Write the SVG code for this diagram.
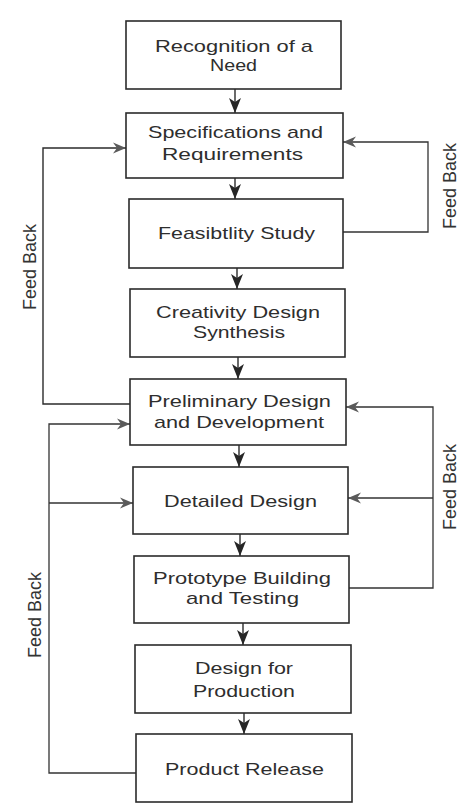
<svg xmlns="http://www.w3.org/2000/svg" width="461" height="808" viewBox="0 0 461 808">
<style>
.box{fill:#fff;stroke:#2b2b2b;stroke-width:1.6}
.t{font-family:"Liberation Sans",Arial,sans-serif;font-size:17px;fill:#2e2e2e;text-anchor:middle}
.fb{font-family:"Liberation Sans",Arial,sans-serif;font-size:18px;fill:#333;text-anchor:middle}
.ln{fill:none;stroke:#2b2b2b;stroke-width:1.4}
.fl{fill:none;stroke:#333;stroke-width:1.3}
</style>
<defs>
<marker id="down" markerWidth="16" markerHeight="14" refX="15" refY="7" orient="auto" markerUnits="userSpaceOnUse">
<path d="M0,1 L15,7 L0,13 L4,7 z" fill="#262626"/>
</marker>
<marker id="fbk" markerWidth="14" markerHeight="12" refX="13" refY="6" orient="auto" markerUnits="userSpaceOnUse">
<path d="M0,0.5 L13,6 L0,11.5 L4,6 z" fill="#5a5a5a"/>
</marker>
</defs>
<rect width="461" height="808" fill="#fff"/>

<g id="connectors">
<line class="ln" x1="235" y1="89" x2="235" y2="113" marker-end="url(#down)"/>
<line class="ln" x1="235" y1="178" x2="235" y2="199" marker-end="url(#down)"/>
<line class="ln" x1="237" y1="268" x2="237" y2="289" marker-end="url(#down)"/>
<line class="ln" x1="238" y1="357" x2="238" y2="379" marker-end="url(#down)"/>
<line class="ln" x1="239" y1="445" x2="239" y2="467" marker-end="url(#down)"/>
<line class="ln" x1="240" y1="534" x2="240" y2="556" marker-end="url(#down)"/>
<line class="ln" x1="243" y1="623" x2="243" y2="645" marker-end="url(#down)"/>
<line class="ln" x1="244" y1="713" x2="244" y2="734" marker-end="url(#down)"/>
<path class="ln" d="M130,404 H43 V148 H126" marker-end="url(#fbk)"/>
<path class="fl" d="M343,232 H428 V142 H343" marker-end="url(#fbk)"/>
<path class="fl" d="M349,588 H433 V407 H346" marker-end="url(#fbk)"/>
<path class="fl" d="M433,498 H348" marker-end="url(#fbk)"/>
<path class="fl" d="M136,773 H49 V424 H130" marker-end="url(#fbk)"/>
<path class="fl" d="M49,503 H133" marker-end="url(#fbk)"/>
</g>

<g id="n1"><rect class="box" x="126" y="21" width="215" height="68"/>
<text class="t" x="234" y="52" textLength="158" lengthAdjust="spacingAndGlyphs">Recognition of a</text>
<text class="t" x="233.5" y="71" textLength="47" lengthAdjust="spacingAndGlyphs">Need</text></g>
<g id="n2"><rect class="box" x="126" y="113" width="217" height="65"/>
<text class="t" x="235.5" y="138" textLength="175" lengthAdjust="spacingAndGlyphs">Specifications and</text>
<text class="t" x="232.5" y="160" textLength="141" lengthAdjust="spacingAndGlyphs">Requirements</text></g>
<g id="n3"><rect class="box" x="129" y="199" width="214" height="69"/>
<text class="t" x="236.5" y="239" textLength="157" lengthAdjust="spacingAndGlyphs">Feasibtlity Study</text></g>
<g id="n4"><rect class="box" x="130" y="289" width="215" height="68"/>
<text class="t" x="238" y="318" textLength="164" lengthAdjust="spacingAndGlyphs">Creativity Design</text>
<text class="t" x="239" y="338" textLength="92" lengthAdjust="spacingAndGlyphs">Synthesis</text></g>
<g id="n5"><rect class="box" x="130" y="379" width="216" height="66"/>
<text class="t" x="239.5" y="407" textLength="183" lengthAdjust="spacingAndGlyphs">Preliminary Design</text>
<text class="t" x="239" y="428" textLength="170" lengthAdjust="spacingAndGlyphs">and Development</text></g>
<g id="n6"><rect class="box" x="133" y="467" width="215" height="67"/>
<text class="t" x="240.5" y="507" textLength="153" lengthAdjust="spacingAndGlyphs">Detailed Design</text></g>
<g id="n7"><rect class="box" x="134" y="556" width="215" height="67"/>
<text class="t" x="242" y="584" textLength="178" lengthAdjust="spacingAndGlyphs">Prototype Building</text>
<text class="t" x="242.5" y="604" textLength="113" lengthAdjust="spacingAndGlyphs">and Testing</text></g>
<g id="n8"><rect class="box" x="135" y="645" width="216" height="68"/>
<text class="t" x="244" y="674" textLength="98" lengthAdjust="spacingAndGlyphs">Design for</text>
<text class="t" x="244" y="697" textLength="102" lengthAdjust="spacingAndGlyphs">Production</text></g>
<g id="n9"><rect class="box" x="136" y="734" width="216" height="68"/>
<text class="t" x="244.5" y="775" textLength="159" lengthAdjust="spacingAndGlyphs">Product Release</text></g>

<g id="labels">
<text class="fb" transform="translate(36,267) rotate(-90)">Feed Back</text>
<text class="fb" transform="translate(456,186) rotate(-90)">Feed Back</text>
<text class="fb" transform="translate(456,487) rotate(-90)">Feed Back</text>
<text class="fb" transform="translate(41,615) rotate(-90)">Feed Back</text>
</g>
</svg>
